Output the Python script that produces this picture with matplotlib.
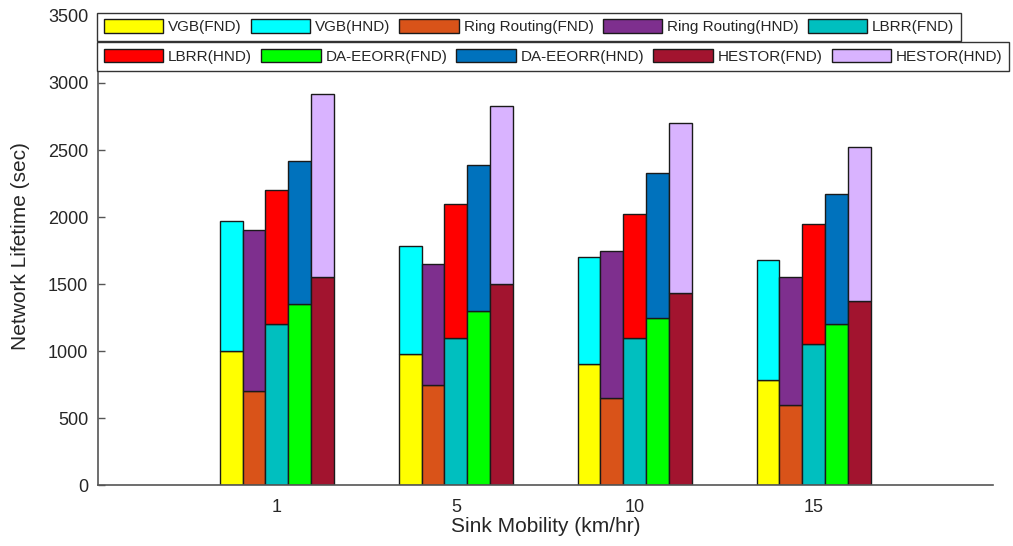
import matplotlib.pyplot as plt
import numpy as np

plt.rcParams['font.family'] = ['Liberation Sans', 'DejaVu Sans']

speeds = ["1", "5", "10", "15"]
protocols = ["VGB", "Ring Routing", "LBRR", "DA-EEORR", "HESTOR"]

# first node dead (FND) and half nodes dead (HND), in seconds
fnd = {
    "VGB": [1000, 980, 900, 780],
    "Ring Routing": [700, 750, 650, 600],
    "LBRR": [1200, 1100, 1100, 1050],
    "DA-EEORR": [1350, 1300, 1250, 1200],
    "HESTOR": [1550, 1500, 1430, 1370],
}
hnd = {
    "VGB": [1970, 1780, 1700, 1680],
    "Ring Routing": [1900, 1650, 1750, 1550],
    "LBRR": [2200, 2100, 2020, 1950],
    "DA-EEORR": [2420, 2390, 2330, 2170],
    "HESTOR": [2920, 2830, 2700, 2520],
}
fnd_colors = ["#FFFF00", "#D95319", "#00BFBF", "#00FF00", "#A2142F"]
hnd_colors = ["#00FFFF", "#7E2F8E", "#FF0000", "#0072BD", "#D9B3FF"]

fig = plt.figure(figsize=(10.13, 5.46), dpi=100)
ax = fig.add_axes([0.0967, 0.1117, 0.8833, 0.859])

x = np.arange(len(speeds))
width = 0.128
handles = {}
for i, p in enumerate(protocols):
    pos = x + (i - 2) * width
    f = np.array(fnd[p])
    h = np.array(hnd[p])
    b1 = ax.bar(pos, f, width, color=fnd_colors[i], edgecolor="#1a1a1a", linewidth=1)
    b2 = ax.bar(pos, h - f, width, bottom=f, color=hnd_colors[i], edgecolor="#1a1a1a", linewidth=1)
    handles[p + "(FND)"] = b1
    handles[p + "(HND)"] = b2

ax.set_xlim(-1, 4)
ax.set_ylim(0, 3500)
ax.set_xticks(x)
ax.set_xticklabels(speeds)
ax.set_yticks(np.arange(0, 3501, 500))
ax.tick_params(axis="y", direction="in", length=5, width=1, color="#555555", labelsize=13,
               labelcolor="#262626", pad=7)
ax.tick_params(axis="x", length=0, labelsize=13, labelcolor="#262626", pad=10)
for s in ["top", "right"]:
    ax.spines[s].set_visible(False)
for s in ["left", "bottom"]:
    ax.spines[s].set_color("#555555")
    ax.spines[s].set_linewidth(1.2)
ax.set_xlabel("Sink Mobility (km/hr)", fontsize=15, color="#262626", labelpad=0.5)
ax.set_ylabel("Network Lifetime (sec)", fontsize=15, color="#262626")
ax.yaxis.set_label_coords(-0.076, 0.51)

order = [l for p in protocols for l in (p + "(FND)", p + "(HND)")]
row1 = order[:5]
row2 = order[5:]
leg_kw = dict(ncol=5, fontsize=11, loc="upper left", borderaxespad=0, fancybox=False,
              handlelength=3.9, handleheight=0.95, handletextpad=0.3, columnspacing=0.6,
              borderpad=0.45, framealpha=1)
leg1 = fig.legend([handles[l] for l in row1], row1, bbox_to_anchor=(0.0957, 0.977), **leg_kw)
leg2 = fig.legend([handles[l] for l in row2], row2, bbox_to_anchor=(0.0957, 0.923), **leg_kw)
for leg in (leg1, leg2):
    leg.get_frame().set_edgecolor("#333333")
    leg.get_frame().set_linewidth(1)
    for t in leg.get_texts():
        t.set_color("#262626")

fig.savefig("out.png", dpi=100)
